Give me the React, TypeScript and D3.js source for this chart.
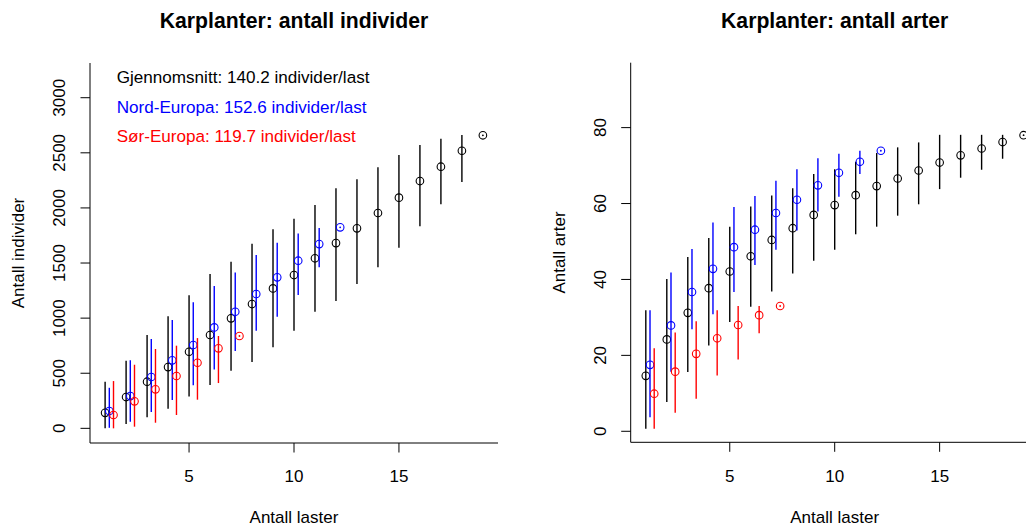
import React from "react";
import * as d3 from "d3";

// ---------- data ----------
const loads = d3.range(1, 20); // 1..19

// Left panel: number of individuals
const indMeanAll = [141, 284, 423, 556, 695, 847, 998, 1128, 1270, 1391, 1543, 1681, 1815, 1954, 2093, 2244, 2374, 2519, 2659];
const indLowAll = [0, 39, 100, 178, 290, 393, 523, 602, 735, 886, 1058, 1155, 1309, 1461, 1639, 1833, 2033, 2235, null];
const indHighAll = [423, 613, 847, 1016, 1207, 1400, 1512, 1675, 1806, 1902, 2027, 2178, 2260, 2368, 2480, 2571, 2628, 2661, null];

const indMeanNord = [157, 293, 466, 617, 756, 916, 1058, 1219, 1370, 1521, 1672, 1824];
const indLowNord = [5, 60, 148, 257, 390, 535, 701, 886, 1013, 1210, 1461, null];
const indHighNord = [368, 617, 810, 983, 1143, 1291, 1415, 1573, 1684, 1769, 1818, null];

const indMeanSor = [121, 245, 354, 475, 595, 726, 838];
const indLowSor = [0, 15, 51, 121, 260, 411, null];
const indHighSor = [429, 577, 720, 750, 819, 838, null];

// Right panel: number of species
const artMeanAll = [14.6, 24.2, 31.2, 37.7, 42.1, 46.1, 50.4, 53.5, 57.0, 59.6, 62.2, 64.6, 66.6, 68.7, 70.8, 72.7, 74.5, 76.2, 78.0];
const artLowAll = [0.7, 7.7, 15.6, 22.6, 28.8, 32.8, 36.8, 41.6, 44.9, 47.8, 51.9, 53.9, 56.8, 59.8, 63.8, 66.8, 68.9, 71.8, null];
const artHighAll = [31.9, 40.1, 45.9, 50.9, 53.9, 59.2, 62.1, 64.0, 67.8, 69.0, 71.0, 73.3, 74.8, 76.1, 78.1, 78.1, 78.1, 78.1, null];

const artMeanNord = [17.5, 27.9, 36.7, 42.8, 48.5, 53.1, 57.5, 61.0, 64.8, 68.1, 71.0, 73.9];
const artLowNord = [3.7, 15.7, 26.9, 30.8, 36.7, 43.8, 47.8, 52.9, 57.9, 61.8, 67.8, null];
const artHighNord = [31.9, 41.8, 48.0, 55.0, 59.1, 62.0, 66.0, 69.0, 71.9, 73.1, 73.9, null];

const artMeanSor = [9.9, 15.7, 20.4, 24.5, 28.0, 30.6, 33.0];
const artLowSor = [0.7, 4.9, 8.6, 14.7, 18.9, 25.8, null];
const artHighSor = [21.9, 26.0, 29.0, 31.9, 33.0, 33.0, null];

const xTicks = [5, 10, 15];
const indTicks = [0, 500, 1000, 1500, 2000, 2500, 3000];
const artTicks = [0, 20, 40, 60, 80];

const legendLines = [
  { text: "Gjennomsnitt: 140.2 individer/last", color: "#000000" },
  { text: "Nord-Europa: 152.6 individer/last", color: "#0000FF" },
  { text: "Sør-Europa: 119.7 individer/last", color: "#FF0000" },
];

const FONT = "'Liberation Sans', Arial, Helvetica, sans-serif";

type Series = {
  mean: number[];
  low: (number | null)[];
  high: (number | null)[];
  color: string;
  offset: number;
};

type PanelProps = {
  left: number;
  right: number;
  top: number;
  bottom: number;
  yDomain: [number, number];
  yTicks: number[];
  title: string;
  yLabel: string;
  series: Series[];
  legend?: boolean;
};

function Panel(p: PanelProps) {
  const x = d3.scaleLinear().domain([0.28, 19.72]).range([p.left, p.right]);
  const y = d3.scaleLinear().domain(p.yDomain).range([p.bottom, p.top]);
  const cx = (p.left + p.right) / 2;
  const cy = (p.top + p.bottom) / 2;
  return (
    <g>
      <text x={cx} y={27.7} textAnchor="middle" fontFamily={FONT} fontWeight="bold" fontSize={21.2}>
        {p.title}
      </text>
      {/* L-shaped box */}
      <line x1={p.left} x2={p.left} y1={p.top} y2={p.bottom} stroke="#000" strokeWidth={1} />
      <line x1={p.left} x2={p.right} y1={p.bottom} y2={p.bottom} stroke="#000" strokeWidth={1} />
      {/* x axis */}
      {xTicks.map((t) => (
        <g key={"x" + t}>
          <line x1={x(t)} x2={x(t)} y1={p.bottom} y2={p.bottom + 9.5} stroke="#000" />
          <text x={x(t)} y={481.7} textAnchor="middle" fontFamily={FONT} fontSize={17}>
            {t}
          </text>
        </g>
      ))}
      <text x={cx} y={523} textAnchor="middle" fontFamily={FONT} fontSize={17}>
        Antall laster
      </text>
      {/* y axis */}
      {p.yTicks.map((t) => (
        <g key={"y" + t}>
          <line x1={p.left} x2={p.left - 9.5} y1={y(t)} y2={y(t)} stroke="#000" />
          <text
            x={p.left - 25}
            y={y(t)}
            transform={`rotate(-90, ${p.left - 25}, ${y(t)})`}
            textAnchor="middle"
            fontFamily={FONT}
            fontSize={17}
          >
            {t}
          </text>
        </g>
      ))}
      <text
        x={p.left - 66}
        y={cy}
        transform={`rotate(-90, ${p.left - 66}, ${cy})`}
        textAnchor="middle"
        fontFamily={FONT}
        fontSize={17}
      >
        {p.yLabel}
      </text>
      {/* data */}
      {p.series.map((s, si) => (
        <g key={"s" + si}>
          {s.mean.map((m, i) => {
            const xv = x(loads[i] + s.offset);
            const lo = s.low[i];
            const hi = s.high[i];
            return (
              <g key={i}>
                {lo !== null && hi !== null ? (
                  <line x1={xv} x2={xv} y1={y(lo)} y2={y(hi)} stroke={s.color} strokeWidth={1.4} />
                ) : (
                  <circle cx={xv} cy={y(m)} r={0.9} fill={s.color} />
                )}
                <circle cx={xv} cy={y(m)} r={3.8} fill="none" stroke={s.color} strokeWidth={1.1} />
              </g>
            );
          })}
        </g>
      ))}
      {p.legend &&
        legendLines.map((l, i) => (
          <text key={i} x={116.7} y={[83.3, 113.3, 141.7][i]} fill={l.color} fontFamily={FONT} fontSize={17.1}>
            {l.text}
          </text>
        ))}
    </g>
  );
}

export default function App() {
  const leftSeries: Series[] = [
    { mean: indMeanAll, low: indLowAll, high: indHighAll, color: "#000000", offset: 0 },
    { mean: indMeanNord, low: indLowNord, high: indHighNord, color: "#0000FF", offset: 0.2 },
    { mean: indMeanSor, low: indLowSor, high: indHighSor, color: "#FF0000", offset: 0.4 },
  ];
  const rightSeries: Series[] = [
    { mean: artMeanAll, low: artLowAll, high: artHighAll, color: "#000000", offset: 0 },
    { mean: artMeanNord, low: artLowNord, high: artHighNord, color: "#0000FF", offset: 0.2 },
    { mean: artMeanSor, low: artLowSor, high: artHighSor, color: "#FF0000", offset: 0.4 },
  ];
  return (
    <svg
      width={1026}
      height={527}
      style={{ position: "absolute", left: 0, top: 0, background: "#fff" }}
    >
      <rect x={0} y={0} width={1026} height={527} fill="#fff" />
      <Panel
        left={90}
        right={498}
        top={63}
        bottom={443}
        yDomain={[-133, 3315]}
        yTicks={indTicks}
        title="Karplanter: antall individer"
        yLabel="Antall individer"
        series={leftSeries}
        legend
      />
      <Panel
        left={630.7}
        right={1038.7}
        top={62.7}
        bottom={442.3}
        yDomain={[-2.9, 97.1]}
        yTicks={artTicks}
        title="Karplanter: antall arter"
        yLabel="Antall arter"
        series={rightSeries}
      />
    </svg>
  );
}
